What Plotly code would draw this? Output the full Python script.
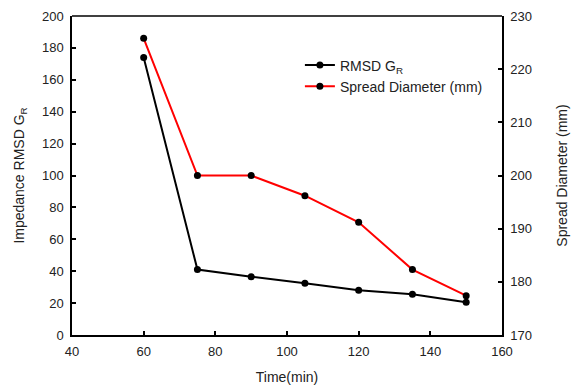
import plotly.graph_objects as go

time_min = [60, 75, 90, 105, 120, 135, 150]
rmsd_gr = [174, 41, 36.5, 32.5, 28, 25.5, 20.5]
spread_mm = [225.8, 200, 200, 196.2, 191.2, 182.3, 177.4]

font = "Liberation Sans, Arial, sans-serif"

fig = go.Figure()
fig.add_trace(go.Scatter(
    x=time_min, y=rmsd_gr, name="RMSD G<sub>R</sub>", mode="lines+markers",
    line=dict(color="black", width=2), marker=dict(color="black", size=7),
))
fig.add_trace(go.Scatter(
    x=time_min, y=spread_mm, name="Spread Diameter (mm)", mode="lines+markers",
    line=dict(color="red", width=2), marker=dict(color="black", size=7),
    yaxis="y2",
))

axis_common = dict(
    showline=True, linecolor="black", linewidth=1.5, ticks="inside",
    ticklen=4, tickwidth=1.5, tickcolor="black", showgrid=False, zeroline=False,
    tickfont=dict(family=font, size=13, color="#222"),
    ticklabelstandoff=4, automargin=False,
)

fig.update_layout(
    width=571, height=385,
    margin=dict(l=72, r=69, t=16, b=50),
    paper_bgcolor="white", plot_bgcolor="white",
    font=dict(family=font, size=13, color="#222"),
    xaxis=dict(range=[40, 160], dtick=20,
               title=dict(text="Time(min)", font=dict(family=font, size=14), standoff=14),
               **axis_common),
    yaxis=dict(range=[0, 200], dtick=20,
               title=dict(text="Impedance RMSD G<sub>R</sub>", font=dict(family=font, size=14), standoff=14),
               **axis_common),
    yaxis2=dict(range=[170, 230], dtick=10, overlaying="y", side="right",
                title=dict(text="Spread Diameter (mm)", font=dict(family=font, size=14), standoff=26),
                **axis_common),
    legend=dict(x=0.53, y=0.895, xanchor="left", yanchor="top",
                bgcolor="rgba(0,0,0,0)", font=dict(family=font, size=14, color="#222"),
                itemwidth=30, tracegroupgap=4),
    showlegend=True,
    shapes=[dict(type="line", xref="paper", yref="paper", x0=0, x1=1, y0=1, y1=1,
                 line=dict(color="black", width=1.5))],
)

fig.write_html("out.html")
